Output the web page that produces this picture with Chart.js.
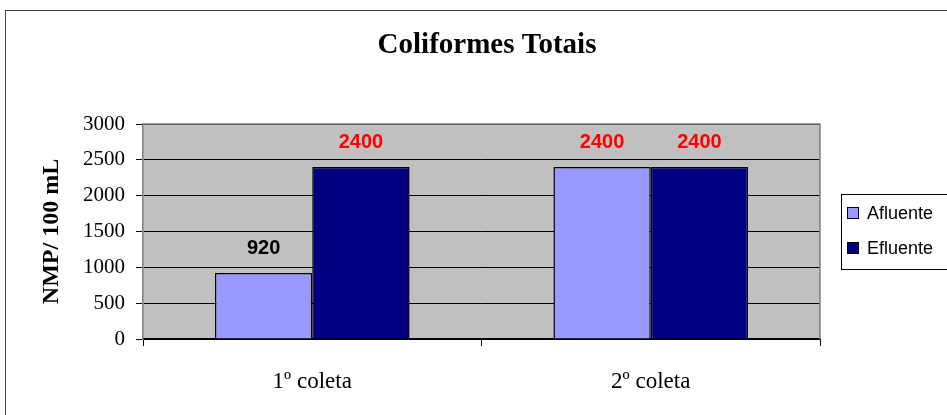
<!DOCTYPE html>
<html>
<head>
<meta charset="utf-8">
<script src="https://cdn.jsdelivr.net/npm/chart.js@4/dist/chart.umd.min.js"></script>
<style>
  body { margin: 0; background: #fff; }
  #wrap { position: relative; width: 947px; height: 415px; overflow: hidden; }
  #frame { position: absolute; left: 5px; top: 10px; width: 980px; height: 440px; border: 1.5px solid #404040; }
  #chart { position: absolute; left: 0; top: 0; }
</style>
</head>
<body>
<div id="wrap">
  <div id="frame"></div>
  <canvas id="chart" width="947" height="415"></canvas>
</div>
<script>
const canvasChart = document.getElementById('chart');

/* DATA */
const CHART_TITLE = 'Coliformes Totais';
const COLETAS = ['1º coleta', '2º coleta'];
const SERIES_NAMES = ['Afluente', 'Efluente'];
var afluente_data = [920, 2400];
var efluente_data = [2400, 2400];
const Y_TICKS = [0, 500, 1000, 1500, 2000, 2500, 3000];

const SERIF = '"Liberation Serif", "Times New Roman", serif';
const SANS = '"Liberation Sans", Arial, sans-serif';

/* DATA STRUCTURE */
const GET_DATASET = (label, data, color) => {
    return {
        label: label,
        data: data,
        backgroundColor: color,
        borderColor: '#000000',
        borderWidth: 1.5,
        borderSkipped: 'bottom',
        categoryPercentage: 0.575,
        barPercentage: 1.0
    };
};

/* plot background + frame + title centred on the page */
const plotArea = {
    id: 'plotArea',
    beforeDraw(chart) {
        const a = chart.chartArea, ctx = chart.ctx;
        ctx.save();
        ctx.fillStyle = '#C0C0C0';
        ctx.fillRect(a.left, a.top, a.right - a.left, a.bottom - a.top);
        ctx.fillStyle = '#000';
        ctx.font = 'bold 29px ' + SERIF;
        ctx.textAlign = 'center';
        ctx.textBaseline = 'middle';
        ctx.fillText(CHART_TITLE, 487, 46);
        ctx.restore();
    },
    afterDatasetsDraw(chart) {
        const a = chart.chartArea, ctx = chart.ctx;
        ctx.save();
        ctx.strokeStyle = '#808080';
        ctx.lineWidth = 1.5;
        ctx.beginPath();
        ctx.moveTo(a.left, a.top);
        ctx.lineTo(a.right, a.top);
        ctx.lineTo(a.right, a.bottom);
        ctx.stroke();
        ctx.restore();
    }
};

/* value labels above bars */
const valueLabels = {
    id: 'valueLabels',
    afterDatasetsDraw(chart) {
        const ctx = chart.ctx;
        ctx.save();
        ctx.font = 'bold 20px ' + SANS;
        ctx.textAlign = 'center';
        ctx.textBaseline = 'middle';
        chart.data.datasets.forEach((ds, i) => {
            chart.getDatasetMeta(i).data.forEach((bar, j) => {
                const v = ds.data[j];
                ctx.fillStyle = v >= 2400 ? '#FF0000' : '#000000';
                ctx.fillText(v, bar.x, bar.y - 25);
            });
        });
        ctx.restore();
    }
};

/* legend box on the right */
const boxLegend = {
    id: 'boxLegend',
    afterDraw(chart) {
        const ctx = chart.ctx;
        const x = 841, y = 194, w = 120, h = 75;
        ctx.save();
        ctx.fillStyle = '#ffffff';
        ctx.fillRect(x, y, w, h);
        ctx.strokeStyle = '#000000';
        ctx.lineWidth = 1;
        ctx.strokeRect(x + 0.5, y + 0.5, w, h);
        ctx.font = '18px ' + SANS;
        ctx.textBaseline = 'middle';
        chart.data.datasets.forEach((ds, i) => {
            const cy = y + 19 + i * 35;
            ctx.fillStyle = ds.backgroundColor;
            ctx.fillRect(x + 6, cy - 6, 12, 12);
            ctx.strokeRect(x + 6.5, cy - 5.5, 11, 11);
            ctx.fillStyle = '#000000';
            ctx.fillText(ds.label, x + 26, cy + 1);
        });
        ctx.restore();
    }
};

/* Bar Chart */
var chartBar = new Chart(canvasChart, {
    type: 'bar',
    data: {
        labels: COLETAS,
        datasets: [
            GET_DATASET(SERIES_NAMES[0], afluente_data, '#9999FF'),
            GET_DATASET(SERIES_NAMES[1], efluente_data, '#000080')
        ]
    },
    options: {
        responsive: false,
        animation: false,
        layout: { padding: { top: 124, right: 127, bottom: 0, left: 0 } },
        plugins: {
            legend: { display: false },
            tooltip: { enabled: false },
            title: { display: false }
        },
        scales: {
            x: {
                grid: { drawOnChartArea: false, color: '#000', tickLength: 7, lineWidth: 1 },
                border: { color: '#000', width: 1.5 },
                ticks: {
                    color: '#000',
                    padding: 22,
                    font: { family: SERIF, size: 23 }
                },
                afterFit: (s) => { s.height = 76; }
            },
            y: {
                min: 0,
                max: 3000,
                afterBuildTicks: (s) => { s.ticks = Y_TICKS.map(v => ({ value: v })); },
                grid: { color: '#000', tickLength: 7, lineWidth: 1 },
                border: { color: '#808080', width: 1.5 },
                ticks: {
                    color: '#000',
                    padding: 11,
                    callback: (v) => String(v),
                    font: { family: SERIF, size: 21 }
                },
                title: {
                    display: true,
                    text: 'NMP/ 100 mL',
                    color: '#000',
                    padding: { top: 37, bottom: 0 },
                    font: { family: SERIF, size: 24, weight: 'bold' }
                },
                afterFit: (s) => { s.width = 143; }
            }
        }
    },
    plugins: [plotArea, valueLabels, boxLegend]
});
</script>
</body>
</html>
